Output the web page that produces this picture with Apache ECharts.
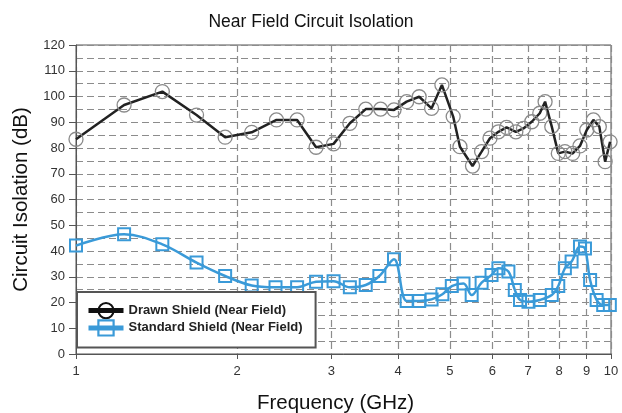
<!DOCTYPE html>
<html>
<head>
<meta charset="utf-8">
<script src="https://cdn.jsdelivr.net/npm/echarts@6/dist/echarts.min.js"></script>
<style>
html,body{margin:0;padding:0;background:#fff;}
#chart{width:622px;height:413px;}
</style>
</head>
<body>
<div id="chart"></div>
<script>
// ---- data ----
var xTickValues = [1, 2, 3, 4, 5, 6, 7, 8, 9, 10];
var drawnFreq = [1.00, 1.23, 1.45, 1.68, 1.90, 2.13, 2.37, 2.59, 2.81, 3.03, 3.25, 3.48, 3.71, 3.93, 4.15, 4.38, 4.62, 4.83, 5.07, 5.22, 5.51, 5.73, 5.94, 6.16, 6.38, 6.64, 6.86, 7.11, 7.36, 7.53, 7.75, 7.97, 8.20, 8.48, 8.75, 9.01, 9.27, 9.51, 9.75, 9.96];
var drawnDb = [83.4, 96.7, 101.9, 92.8, 84.2, 86.1, 90.9, 90.9, 80.3, 81.6, 89.6, 95.1, 95.1, 94.8, 98.0, 99.9, 95.4, 104.5, 92.2, 80.5, 73.0, 78.6, 83.8, 86.3, 88.0, 86.3, 87.6, 90.2, 93.5, 98.0, 88.3, 77.9, 78.6, 77.9, 80.8, 87.0, 90.9, 88.3, 74.7, 82.4];
var standardFreq = [1.00, 1.23, 1.45, 1.68, 1.90, 2.13, 2.36, 2.59, 2.81, 3.03, 3.25, 3.48, 3.69, 3.93, 4.15, 4.38, 4.62, 4.84, 5.04, 5.30, 5.49, 5.73, 5.98, 6.16, 6.43, 6.61, 6.76, 7.01, 7.36, 7.75, 7.97, 8.20, 8.44, 8.75, 8.94, 9.14, 9.40, 9.67, 9.95];
var standardDb = [42.1, 46.5, 42.6, 35.5, 30.3, 26.6, 25.9, 25.9, 28.1, 28.3, 25.9, 26.8, 30.3, 36.8, 20.6, 20.6, 21.2, 23.2, 26.4, 27.4, 22.9, 27.7, 30.7, 33.3, 32.0, 24.9, 21.0, 20.3, 21.0, 22.9, 26.4, 33.3, 35.9, 41.7, 41.0, 28.7, 21.0, 19.0, 19.0];

function pairs(xs, ys) { return xs.map(function (x, i) { return [x, ys[i]]; }); }

var FONT = '"Liberation Sans", Arial, sans-serif';
var dash = { color: '#8c8c8c', width: 1.2, type: [7, 4] };
var blue = '#3a9ad8';

var chart = echarts.init(document.getElementById('chart'), null, { renderer: 'canvas' });
chart.setOption({
  backgroundColor: '#fff',
  animation: false,
  title: {
    text: 'Near Field Circuit Isolation',
    left: 'center',
    top: 8,
    textStyle: { fontFamily: FONT, fontSize: 17.5, fontWeight: 'normal', color: '#111' }
  },
  grid: {
    left: 76, right: 11, top: 45, bottom: 59,
    containLabel: false, outerBoundsMode: 'none',
    show: true, borderColor: '#555', borderWidth: 1, backgroundColor: 'transparent'
  },
  legend: {
    orient: 'vertical',
    left: 77, top: 292,
    padding: [10, 13, 11, 9],
    itemGap: 0,
    itemWidth: 35, itemHeight: 19,
    backgroundColor: '#fff',
    borderColor: '#555', borderWidth: 2,
    textStyle: { fontFamily: FONT, fontSize: 13, fontWeight: 'bold', color: '#222' },
    data: [
      { name: 'Drawn Shield (Near Field)', itemStyle: { borderColor: '#111', borderWidth: 2 }, lineStyle: { width: 5, color: '#111' } },
      { name: 'Standard Shield (Near Field)', itemStyle: { borderWidth: 2.2 }, lineStyle: { width: 5 } }
    ]
  },
  xAxis: {
    type: 'log', logBase: 10, min: 1, max: 10,
    name: 'Frequency (GHz)', nameLocation: 'middle', nameGap: 39,
    nameTextStyle: { fontFamily: FONT, fontSize: 20.5, color: '#111', padding: [0, 16, 0, 0] },
    axisLine: { show: true, lineStyle: { color: '#555', width: 1 } },
    axisTick: { show: true, customValues: xTickValues, length: 5, lineStyle: { color: '#555' } },
    axisLabel: { customValues: xTickValues, fontFamily: FONT, fontSize: 13, color: '#333', margin: 11 },
    splitLine: { show: true, lineStyle: dash },
    minorTick: { show: false },
    minorSplitLine: { show: false }
  },
  yAxis: {
    type: 'value', min: 0, max: 120, interval: 10,
    name: 'Circuit Isolation (dB)', nameLocation: 'middle', nameGap: 44,
    nameTextStyle: { fontFamily: FONT, fontSize: 20.5, color: '#111' },
    axisLine: { show: true, lineStyle: { color: '#555', width: 1 } },
    axisTick: { show: true, length: 7, lineStyle: { color: '#555' } },
    axisLabel: { fontFamily: FONT, fontSize: 13, color: '#333', margin: 11 },
    splitLine: { show: true, lineStyle: dash },
    minorTick: { show: false, splitNumber: 2 },
    minorSplitLine: { show: true, lineStyle: dash }
  },
  series: [
    {
      name: 'Drawn Shield (Near Field)',
      type: 'line',
      data: pairs(drawnFreq, drawnDb),
      symbol: 'circle', symbolSize: 14,
      lineStyle: { color: '#222', width: 2.5 },
      itemStyle: { color: 'rgba(0,0,0,0)', borderColor: '#8a8a8a', borderWidth: 1.3 },
      z: 3
    },
    {
      name: 'Standard Shield (Near Field)',
      type: 'line',
      data: pairs(standardFreq, standardDb),
      smooth: 0.35,
      symbol: 'rect', symbolSize: 12,
      lineStyle: { color: blue, width: 2.5 },
      itemStyle: { color: 'rgba(0,0,0,0)', borderColor: blue, borderWidth: 2 },
      z: 3
    }
  ]
});
</script>
</body>
</html>
